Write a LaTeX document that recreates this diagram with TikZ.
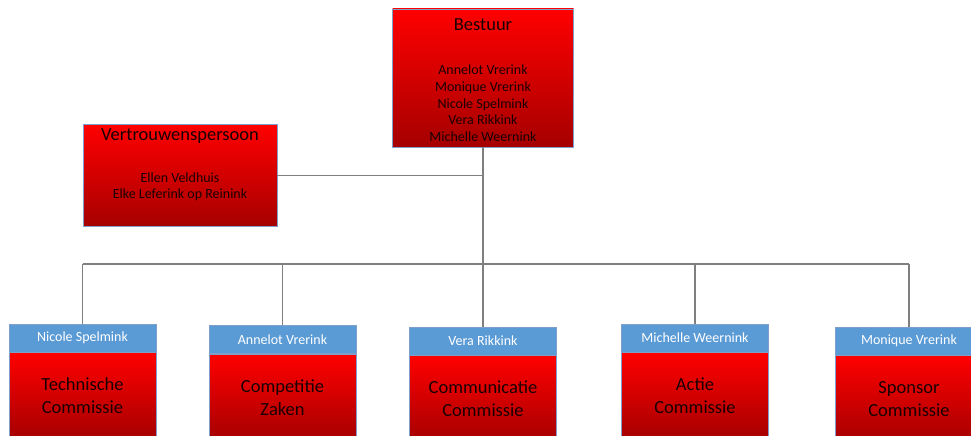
\documentclass[tikz,border=0pt]{standalone}
\usepackage{fontspec}
\setmainfont{Carlito}
\definecolor{redtop}{HTML}{FF0000}
\definecolor{redbot}{HTML}{A50000}
\definecolor{bordc}{HTML}{7F9FCB}
\definecolor{hdrc}{HTML}{5B9BD5}
\definecolor{linec}{HTML}{7F7F7F}
\definecolor{txtc}{HTML}{1A0000}
\begin{document}
\begin{tikzpicture}[x=1pt,y=-1pt,
  redbox/.style={rectangle, draw=bordc, line width=0.9pt, top color=redtop, bottom color=redbot, inner sep=0pt, text=txtc, align=center},
  hdr/.style={rectangle, draw=bordc, line width=0.9pt, fill=hdrc, text=white, font=\fontsize{14}{17}\selectfont, inner sep=0pt, minimum width=147pt, minimum height=28pt},
  comm/.style={redbox, anchor=north, minimum width=147pt, minimum height=86pt, font=\fontsize{18.5}{23}\selectfont},
  ttl/.style={text=txtc, font=\fontsize{18.5}{22}\selectfont, inner sep=0pt},
  names/.style={text=txtc, font=\fontsize{14}{16.7}\selectfont, align=center, inner sep=0pt},
  conn/.style={draw=linec, line width=1.1pt}]
\useasboundingbox (0,0) rectangle (971,436);
\clip (0,0) rectangle (971,436);
\fill[white] (0,0) rectangle (971,436);

% Bestuur
\node[redbox, minimum width=181pt, minimum height=138pt] (best) at (483,78) {};
\node[ttl] (bt) at (483,25) {Bestuur};
\node[names] (bn) at (483,103.3) {Annelot Vrerink\\Monique Vrerink\\Nicole Spelmink\\Vera Rikkink\\Michelle Weernink};

% Vertrouwenspersoon
\node[redbox, minimum width=194pt, minimum height=102pt] (vp) at (180,175.5) {};
\node[ttl] (vt) at (180,136) {Vertrouwenspersoon};
\node[names] (vn) at (180,186.7) {Ellen Veldhuis\\Elke Leferink op Reinink};

% Headers
\node[hdr] (h1) at (82.5,338) {Nicole Spelmink};
\node[hdr] (h2) at (282.5,339.5) {Annelot Vrerink};
\node[hdr] (h3) at (483,341) {Vera Rikkink};
\node[hdr] (h4) at (695,338) {Michelle Weernink};
\node[hdr] (h5) at (909,341) {Monique Vrerink};

% Commissions
\node[comm] (c1) at (h1.south) {Technische\\Commissie};
\node[comm] (c2) at (h2.south) {Competitie\\Zaken};
\node[comm] (c3) at (h3.south) {Communicatie\\Commissie};
\node[comm] (c4) at (h4.south) {Actie\\Commissie};
\node[comm] (c5) at (h5.south) {Sponsor\\Commissie};

% Connectors
\coordinate (bus) at (483,264);
\draw[conn] (best.south) -- (bus);
\draw[conn] (vp.east) -- (vp.east -| bus);
\draw[conn] (h1.north |- bus) -- (h5.north |- bus);
\foreach \i in {1,...,5}{
  \draw[conn] (h\i.north) -- (h\i.north |- bus);
}
\end{tikzpicture}
\end{document}
